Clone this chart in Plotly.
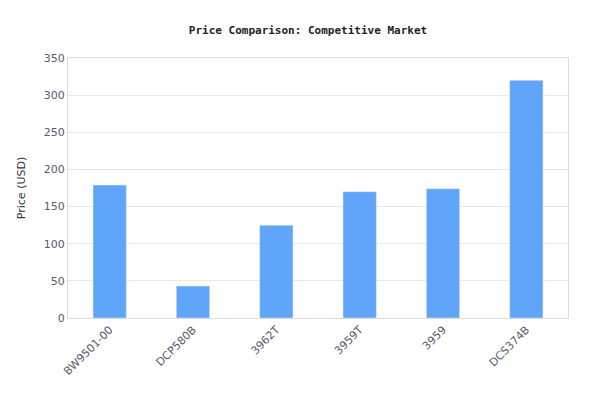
import plotly.graph_objects as go

# data
models = ["BW9501-00", "DCP580B", "3962T", "3959T", "3959", "DCS374B"]
prices = [179, 43, 125, 170, 174, 320]

fig = go.Figure(
    go.Bar(x=models, y=prices, marker_color="#60a5fa", width=0.4)
)

fig.update_layout(
    width=600,
    height=420,
    title=dict(
        text="<b>Price Comparison: Competitive Market</b>",
        x=0.5,
        y=0.947,
        yanchor="middle",
        font=dict(family="DejaVu Sans Mono", size=11, color="#222"),
    ),
    margin=dict(l=60, r=40, t=50, b=110, autoexpand=False),
    plot_bgcolor="white",
    paper_bgcolor="white",
    font=dict(family="DejaVu Sans", size=11, color="#555a6e"),
    showlegend=False,
)
fig.update_xaxes(
    tickangle=-45,
    showline=True,
    linecolor="#dddddd",
    mirror=True,
    ticks="",
    automargin=False,
)
fig.update_yaxes(
    title=dict(text="Price (USD)", font=dict(color="#333", size=11)),
    range=[0, 350],
    dtick=50,
    gridcolor="#e8e8e8",
    showline=True,
    linecolor="#dddddd",
    mirror=True,
    zeroline=False,
    automargin=False,
)

fig.write_html("out.html")
